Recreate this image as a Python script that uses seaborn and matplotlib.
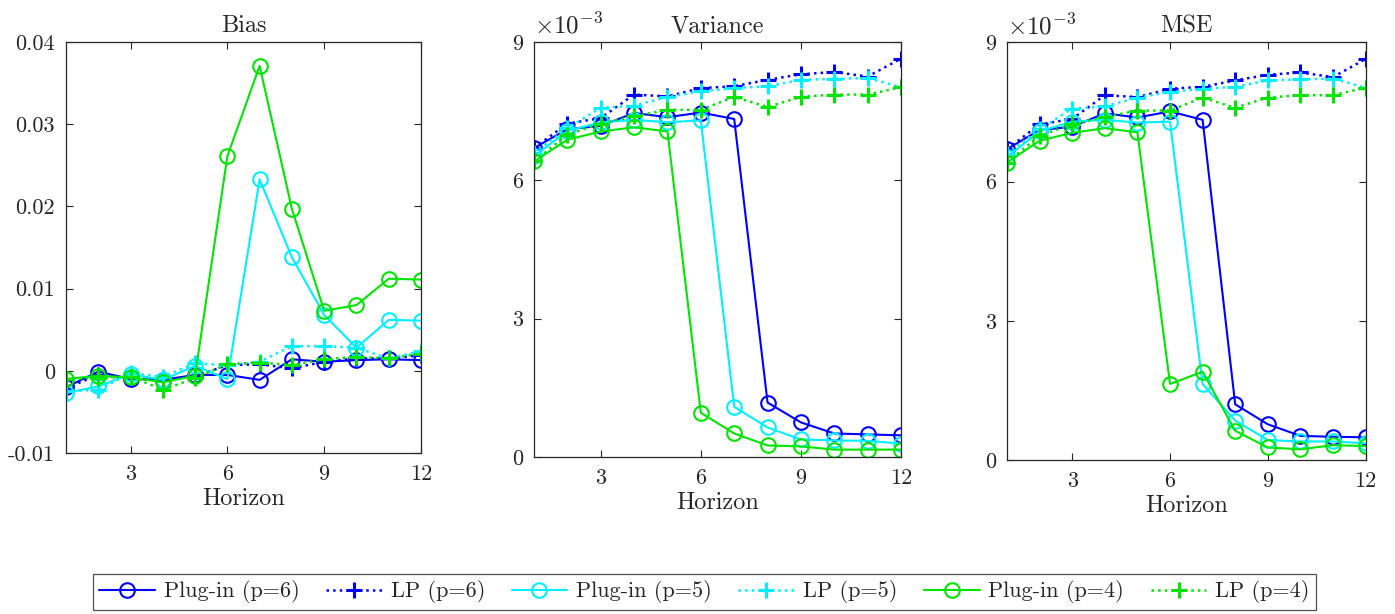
import numpy as np
import pandas as pd
import matplotlib
matplotlib.use("Agg")
import matplotlib.pyplot as plt
import seaborn as sns

# horizons
horizon = list(range(1, 13))

# Bias
bias_plugin_p6 = [-0.0020, -0.0001, -0.0010, -0.0011, -0.0005, -0.0005, -0.0011, 0.0014, 0.0011, 0.0013, 0.0014, 0.0013]
bias_lp_p6 = [-0.0021, -0.0005, -0.0009, -0.0011, -0.0007, 0.0007, 0.0008, 0.0003, 0.0011, 0.0015, 0.0015, 0.0019]
bias_plugin_p5 = [-0.0027, -0.0019, -0.0004, -0.0011, 0.0006, -0.0010, 0.0233, 0.0138, 0.0068, 0.0028, 0.0062, 0.0061]
bias_lp_p5 = [-0.0025, -0.0023, -0.0003, -0.0007, 0.0009, 0.0007, 0.0011, 0.0030, 0.0030, 0.0028, 0.0015, 0.0024]
bias_plugin_p4 = [-0.0010, -0.0006, -0.0008, -0.0014, -0.0006, 0.0261, 0.0371, 0.0197, 0.0073, 0.0080, 0.0112, 0.0111]
bias_lp_p4 = [-0.0010, -0.0009, -0.0007, -0.0023, -0.0009, 0.0008, 0.0010, 0.0007, 0.0014, 0.0017, 0.0015, 0.0021]

# Variance (x 1e-3)
var_plugin_p6 = [6.70, 7.11, 7.18, 7.46, 7.37, 7.47, 7.33, 1.18, 0.75, 0.51, 0.49, 0.47]
var_lp_p6 = [6.70, 7.23, 7.35, 7.86, 7.82, 8.00, 8.04, 8.18, 8.30, 8.35, 8.25, 8.64]
var_plugin_p5 = [6.52, 7.07, 7.26, 7.31, 7.26, 7.30, 1.09, 0.64, 0.38, 0.36, 0.35, 0.29]
var_lp_p5 = [6.59, 7.13, 7.57, 7.62, 7.81, 7.93, 8.00, 8.04, 8.18, 8.20, 8.22, 8.02]
var_plugin_p4 = [6.41, 6.88, 7.06, 7.15, 7.06, 0.96, 0.51, 0.25, 0.23, 0.16, 0.16, 0.16]
var_lp_p4 = [6.41, 6.99, 7.23, 7.39, 7.53, 7.53, 7.81, 7.59, 7.81, 7.86, 7.86, 8.02]

# MSE (x 1e-3)
mse_plugin_p6 = [6.70, 7.11, 7.18, 7.47, 7.38, 7.51, 7.33, 1.20, 0.77, 0.52, 0.50, 0.49]
mse_lp_p6 = [6.70, 7.23, 7.35, 7.86, 7.82, 8.00, 8.04, 8.18, 8.30, 8.35, 8.25, 8.64]
mse_plugin_p5 = [6.53, 7.08, 7.29, 7.33, 7.27, 7.29, 1.64, 0.85, 0.43, 0.40, 0.40, 0.36]
mse_lp_p5 = [6.59, 7.13, 7.57, 7.62, 7.81, 7.93, 8.00, 8.04, 8.18, 8.20, 8.22, 8.02]
mse_plugin_p4 = [6.41, 6.88, 7.05, 7.15, 7.06, 1.64, 1.90, 0.63, 0.27, 0.23, 0.32, 0.30]
mse_lp_p4 = [6.41, 6.99, 7.23, 7.39, 7.53, 7.53, 7.81, 7.59, 7.81, 7.86, 7.86, 8.02]

series_labels = ["Plug-in (p=6)", "LP (p=6)", "Plug-in (p=5)", "LP (p=5)", "Plug-in (p=4)", "LP (p=4)"]
series_colors = ["#0000ff", "#0000ff", "#00f0ff", "#00f0ff", "#00e600", "#00e600"]

sns.set_style("ticks")
plt.rcParams["font.family"] = ["cmr10", "DejaVu Serif"]
plt.rcParams["mathtext.fontset"] = "cm"
plt.rcParams["axes.unicode_minus"] = False
plt.rcParams["axes.formatter.use_mathtext"] = True

fig = plt.figure(figsize=(13.95, 6.14), dpi=100)
ax_bias = fig.add_axes([0.0473, 0.2622, 0.2545, 0.6694])
ax_var = fig.add_axes([0.3828, 0.2557, 0.2631, 0.6759])
ax_mse = fig.add_axes([0.7219, 0.2508, 0.2570, 0.6803])


def draw_panel(ax, data, scale):
    for vals, lab, col in zip(data, series_labels, series_colors):
        y = np.array(vals) * scale
        if lab.startswith("Plug"):
            sns.lineplot(x=horizon, y=y, ax=ax, color=col, linestyle="-", linewidth=1.5,
                         marker="o", markersize=10.5, markerfacecolor="none",
                         markeredgecolor=col, markeredgewidth=1.5, label=lab)
        else:
            sns.lineplot(x=horizon, y=y, ax=ax, color=col, linestyle=":", linewidth=1.8,
                         marker="+", markersize=12, markeredgecolor=col,
                         markeredgewidth=2.2, label=lab)
    ax.set_xlim(1, 12)
    ax.set_xticks([3, 6, 9, 12])
    ax.set_xticklabels(["3", "6", "9", "12"])
    ax.set_xlabel("Horizon", fontsize=17.5, labelpad=3)
    ax.set_ylabel("")
    ax.tick_params(direction="in", top=True, right=True, length=5, width=0.8,
                   labelsize=16, colors="#262626", pad=8)
    for s in ax.spines.values():
        s.set_color("#262626")
        s.set_linewidth(0.9)
    ax.get_legend().remove()


draw_panel(ax_bias, [bias_plugin_p6, bias_lp_p6, bias_plugin_p5, bias_lp_p5, bias_plugin_p4, bias_lp_p4], 1.0)
ax_bias.set_ylim(-0.01, 0.04)
ax_bias.set_yticks([-0.01, 0, 0.01, 0.02, 0.03, 0.04])
ax_bias.set_yticklabels(["-0.01", "0", "0.01", "0.02", "0.03", "0.04"])
ax_bias.set_title("Bias", fontsize=17.5, pad=7)

for ax, data, title in [
    (ax_var, [var_plugin_p6, var_lp_p6, var_plugin_p5, var_lp_p5, var_plugin_p4, var_lp_p4], "Variance"),
    (ax_mse, [mse_plugin_p6, mse_lp_p6, mse_plugin_p5, mse_lp_p5, mse_plugin_p4, mse_lp_p4], "MSE"),
]:
    draw_panel(ax, data, 1e-3)
    ax.set_ylim(0, 9e-3)
    ax.set_yticks([0, 3e-3, 6e-3, 9e-3])
    ax.set_yticklabels(["0", "3", "6", "9"])
    ax.set_title(title, fontsize=17.5, pad=7)
    ax.text(0.0, 1.008, r"$\times10^{-3}$", transform=ax.transAxes, fontsize=18,
            color="#262626", ha="left", va="bottom")

handles, labels = ax_bias.get_legend_handles_labels()
leg = fig.legend(handles, labels, loc="center", bbox_to_anchor=(0.505, 0.036), ncol=6,
                 fontsize=16, frameon=True, fancybox=False, edgecolor="#262626",
                 handlelength=2.5, columnspacing=1.2, handletextpad=0.4,
                 borderpad=0.3)
leg.get_frame().set_linewidth(0.9)

fig.savefig("out.png", dpi=100, facecolor="white")
